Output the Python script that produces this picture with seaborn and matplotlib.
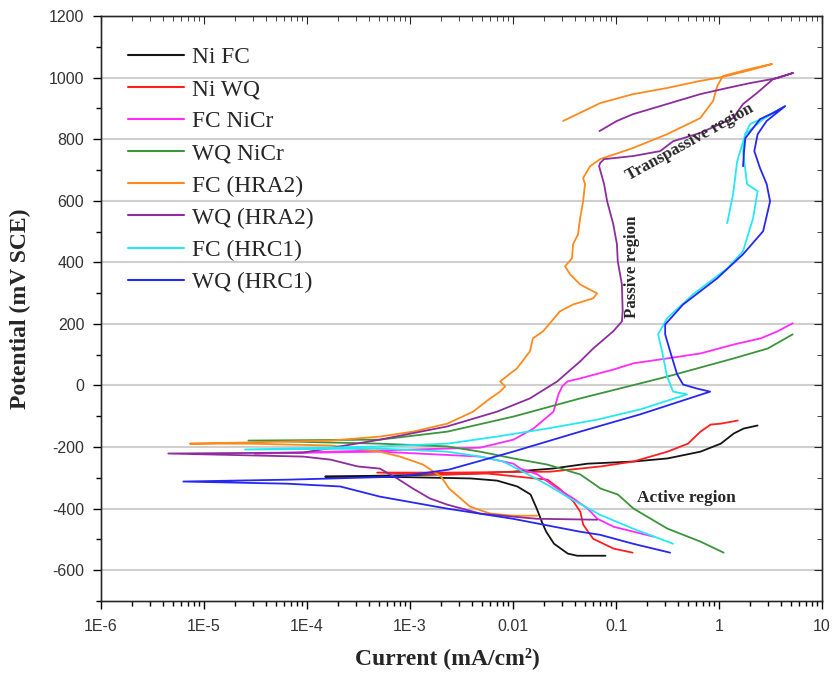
import numpy as np
import pandas as pd
import seaborn as sns
import matplotlib.pyplot as plt
from matplotlib.ticker import MultipleLocator, LogLocator, NullFormatter

# Polarization curves: (current mA/cm2, potential mV SCE), cathodic end -> Ecorr -> anodic end
ni_fc = [(0.079, -553), (0.042, -553), (0.034, -546), (0.025, -514), (0.021, -475), (0.019, -442),
         (0.017, -400), (0.0148, -354), (0.011, -328), (0.007, -309), (0.0039, -302), (0.001, -298),
         (0.00015, -296), (0.0005, -293), (0.003, -288), (0.01, -280), (0.024, -270), (0.053, -254),
         (0.148, -247), (0.316, -237), (0.66, -215), (1.04, -189), (1.39, -156), (1.73, -140), (2.37, -130)]

ni_wq = [(0.145, -543), (0.095, -530), (0.060, -498), (0.048, -452), (0.045, -410), (0.0386, -377),
         (0.0289, -338), (0.0216, -306), (0.0056, -286), (0.0023, -289), (0.00048, -283), (0.0024, -283),
         (0.023, -280), (0.071, -263), (0.148, -247), (0.316, -215), (0.50, -189), (0.66, -150),
         (0.83, -127), (1.04, -124), (1.52, -114)]

fc_nicr = [(0.231, -491), (0.095, -459), (0.066, -433), (0.053, -400), (0.0386, -367), (0.027, -335),
           (0.0173, -289), (0.0118, -270), (0.0101, -254), (0.0048, -231), (0.00051, -215), (0.000031, -221),
           (0.00051, -211), (0.0048, -202), (0.0101, -176), (0.0158, -140), (0.0247, -85), (0.0276, -29),
           (0.030, -3), (0.0338, 13), (0.045, 23), (0.095, 52), (0.148, 72), (0.316, 88), (0.66, 104),
           (1.39, 133), (2.54, 153), (3.71, 176), (5.19, 202)]

wq_nicr = [(1.11, -543), (0.66, -507), (0.316, -465), (0.148, -400), (0.104, -354), (0.071, -335),
           (0.045, -289), (0.0216, -257), (0.0101, -237), (0.0048, -215), (0.0023, -198), (0.00051, -189),
           (0.000027, -179), (0.00051, -176), (0.0023, -150), (0.0101, -101), (0.045, -42), (0.173, 7),
           (0.316, 29), (1.39, 88), (2.97, 120), (5.19, 166)]

fc_hra2 = [(0.0171, -423), (0.0100, -423), (0.0060, -416), (0.0038, -393), (0.0031, -367), (0.0024, -335),
           (0.0020, -296), (0.00134, -257), (0.0008, -231), (0.00051, -215), (0.00017, -195), (0.000028, -189),
           (0.0000073, -189), (0.000028, -185), (0.00017, -179), (0.00051, -166), (0.00107, -150),
           (0.0023, -124), (0.0041, -85), (0.0060, -42), (0.0075, -20), (0.0084, -3), (0.0075, 13),
           (0.0094, 39), (0.0109, 55), (0.0146, 111), (0.0156, 153), (0.0196, 176), (0.0286, 241),
           (0.0383, 263), (0.060, 283), (0.0655, 299), (0.0448, 328), (0.0358, 361), (0.032, 387),
           (0.0374, 413), (0.0383, 459), (0.0428, 491), (0.0448, 543), (0.0479, 598), (0.050, 654),
           (0.0479, 673), (0.056, 712), (0.070, 735), (0.146, 771), (0.313, 816), (0.655, 868),
           (0.877, 924), (0.96, 972), (1.09, 1005), (2.0, 1028), (3.27, 1044), (2.0, 1024), (1.09, 1002),
           (0.655, 989), (0.313, 966), (0.146, 946), (0.070, 917), (0.056, 901), (0.0306, 859)]

wq_hra2 = [(0.0655, -436), (0.0171, -433), (0.0100, -426), (0.0048, -416), (0.0023, -387), (0.00156, -367),
           (0.00107, -335), (0.00075, -302), (0.00051, -270), (0.00031, -263), (0.00017, -241),
           (0.000092, -231), (0.0000045, -221), (0.000092, -218), (0.00051, -176), (0.0023, -133),
           (0.0070, -85), (0.0146, -42), (0.0268, 13), (0.0448, 78), (0.060, 120), (0.094, 176),
           (0.114, 208), (0.116, 241), (0.114, 328), (0.104, 403), (0.102, 459), (0.094, 524), (0.082, 598),
           (0.0766, 654), (0.0685, 712), (0.070, 722), (0.0766, 735), (0.146, 745), (0.268, 761),
           (0.358, 793), (0.655, 820), (1.37, 868), (1.71, 914), (2.34, 950), (3.35, 995), (5.24, 1015),
           (3.66, 998), (2.0, 982), (1.2, 966), (0.655, 946), (0.313, 914), (0.146, 881), (0.102, 859),
           (0.069, 826)]

fc_hrc1 = [(0.358, -514), (0.146, -465), (0.070, -420), (0.0358, -367), (0.0214, -322), (0.0125, -280),
           (0.0080, -247), (0.0048, -231), (0.0023, -215), (0.00051, -205), (0.000025, -208),
           (0.00051, -198), (0.0023, -189), (0.0070, -166), (0.0214, -140), (0.0655, -111), (0.171, -78),
           (0.49, -29), (0.358, -20), (0.313, 29), (0.28, 111), (0.256, 166), (0.313, 218), (0.56, 296),
           (1.2, 380), (1.71, 436), (2.14, 543), (2.37, 631), (1.87, 654), (1.71, 761), (1.8, 816),
           (2.0, 849), (2.68, 868), (4.38, 907), (2.68, 865), (1.8, 816), (1.5, 728), (1.37, 621), (1.2, 527)]

wq_hrc1 = [(0.335, -543), (0.146, -514), (0.070, -485), (0.0448, -475), (0.0100, -433), (0.0023, -400),
           (0.00051, -361), (0.00021, -328), (0.000064, -319), (0.0000063, -312), (0.000064, -306),
           (0.00018, -302), (0.0008, -296), (0.0024, -273), (0.0100, -215), (0.0448, -150), (0.171, -94),
           (0.82, -20), (0.61, -10), (0.448, 3), (0.392, 36), (0.335, 111), (0.30, 166), (0.30, 198),
           (0.448, 263), (0.96, 348), (1.71, 426), (2.68, 501), (3.13, 598), (2.9, 654), (2.5, 706),
           (2.2, 761), (2.37, 816), (2.9, 859), (4.38, 907), (3.35, 885), (2.5, 865), (1.8, 803),
           (1.75, 761), (1.71, 712)]

labels = ["Ni FC", "Ni WQ", "FC NiCr", "WQ NiCr", "FC (HRA2)", "WQ (HRA2)", "FC (HRC1)", "WQ (HRC1)"]
series = [ni_fc, ni_wq, fc_nicr, wq_nicr, fc_hra2, wq_hra2, fc_hrc1, wq_hrc1]
colors = ["#141414", "#ff1f1f", "#ff2bff", "#3c943c", "#ff8a1c", "#8d2c9d", "#26e8f2", "#2727f2"]

xticks = [1e-6, 1e-5, 1e-4, 1e-3, 1e-2, 1e-1, 1, 10]
xtick_labels = ["1E-6", "1E-5", "1E-4", "1E-3", "0.01", "0.1", "1", "10"]
yticks = list(range(-600, 1201, 200))

frames = []
for name, pts in zip(labels, series):
    d = pd.DataFrame(pts, columns=["current", "potential"])
    d["sample"] = name
    frames.append(d)
df = pd.concat(frames, ignore_index=True)

sns.set_style("ticks")
plt.rcParams["font.family"] = ["Liberation Serif", "DejaVu Serif"]
plt.rcParams["axes.unicode_minus"] = False

fig = plt.figure(figsize=(8.36, 6.94), dpi=100)
ax = fig.add_axes([0.1208, 0.134, 0.8625, 0.843])

sns.lineplot(data=df, x="current", y="potential", hue="sample", hue_order=labels,
             palette=colors, sort=False, estimator=None, linewidth=1.3, ax=ax)

ax.set_xscale("log")
ax.set_xlim(1e-6, 10)
ax.set_ylim(-700, 1200)
ax.set_xticks(xticks)
ax.set_xticklabels(xtick_labels)
ax.xaxis.set_minor_locator(LogLocator(base=10, subs=np.arange(2, 10) * 1.0, numticks=30))
ax.xaxis.set_minor_formatter(NullFormatter())
ax.set_yticks(yticks)
ax.yaxis.set_minor_locator(MultipleLocator(100))

ax.yaxis.grid(True, color="#cfcfcf", linewidth=1.5)
ax.xaxis.grid(False)
ax.set_axisbelow(True)

for lab in ax.get_xticklabels() + ax.get_yticklabels():
    lab.set_fontfamily("Liberation Sans")
    lab.set_fontsize(11.5)
    lab.set_color("#333333")
ax.tick_params(axis="both", which="major", direction="out", length=6, width=1, color="black")
ax.tick_params(axis="both", which="minor", direction="out", length=3.5, width=1, color="black")
ax.tick_params(axis="y", which="major", pad=6)
ax.tick_params(axis="x", which="major", pad=7)

for s in ax.spines.values():
    s.set_visible(True)
    s.set_color("black")
    s.set_linewidth(1)

# inward ticks on right and top
axr = ax.twinx()
axr.set_ylim(-700, 1200)
axr.set_yticks(yticks)
axr.yaxis.set_minor_locator(MultipleLocator(100))
axr.tick_params(axis="y", which="major", direction="in", length=6, labelright=False)
axr.tick_params(axis="y", which="minor", direction="in", length=3.5)
axt = ax.twiny()
axt.set_xscale("log")
axt.set_xlim(1e-6, 10)
axt.set_xticks(xticks)
axt.xaxis.set_minor_locator(LogLocator(base=10, subs=np.arange(2, 10) * 1.0, numticks=30))
axt.xaxis.set_minor_formatter(NullFormatter())
axt.tick_params(axis="x", which="major", direction="in", length=6, labeltop=False)
axt.tick_params(axis="x", which="minor", direction="in", length=3.5)

ax.set_xlabel("Current (mA/cm²)", fontsize=17, fontweight="bold")
ax.set_ylabel("Potential (mV SCE)", fontsize=17, fontweight="bold")
ax.xaxis.set_label_coords(0.481, -0.078)
ax.yaxis.set_label_coords(-0.097, 0.5)

handles, _ = ax.get_legend_handles_labels()
leg = ax.legend(handles[:len(labels)], labels, loc="upper left", bbox_to_anchor=(0.037, 0.947),
                frameon=False, fontsize=16.8, borderpad=0, borderaxespad=0,
                handlelength=2.4, handletextpad=0.35, labelspacing=0.46)
for h in leg.get_lines():
    h.set_linewidth(1.5)

ax.text(0.52, 790, "Transpassive region", rotation=29, fontsize=12.2, fontweight="bold",
        ha="center", va="center", rotation_mode="anchor")
ax.text(0.143, 387, "Passive region", rotation=90, fontsize=12.2, fontweight="bold",
        ha="center", va="center")
ax.text(0.48, -367, "Active region", fontsize=12.5, fontweight="bold", ha="center", va="center")

fig.savefig("out.png", dpi=100)
